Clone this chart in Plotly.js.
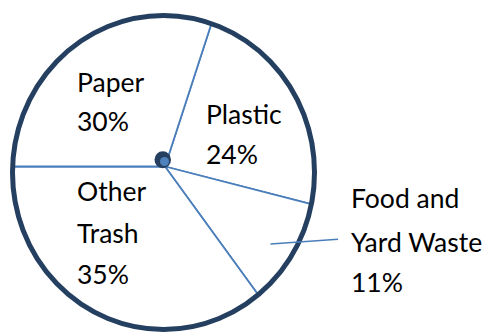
<!DOCTYPE html>
<html>
<head>
<meta charset="utf-8">
<script src="https://cdn.plot.ly/plotly-3.0.1.min.js"></script>
<style>html,body{margin:0;padding:0;background:#fff;}#chart{width:489px;height:333px;}</style>
</head>
<body>
<div id="chart"></div>
<script>
// Data
var categories = ['Plastic', 'Food and Yard Waste', 'Other Trash', 'Paper'];
var shares = [24, 11, 35, 30];
var labelLines = [['Plastic', '24%'], ['Food and', 'Yard Waste', '11%'], ['Other', 'Trash', '35%'], ['Paper', '30%']];

var W = 489, H = 333;
function px(x) { return x / W; }
function py(y) { return 1 - y / H; }

// label layout (left x, vertical centers of each line in pixels)
var labelPos = [
  {x: 205, ys: [114, 154]},
  {x: 350, ys: [197.5, 241.5, 281.5]},
  {x: 76, ys: [191, 233, 273.5]},
  {x: 76, ys: [82, 121]}
];

var annotations = [];
labelLines.forEach(function (lines, i) {
  lines.forEach(function (t, j) {
    annotations.push({
      text: t, showarrow: false, xref: 'paper', yref: 'paper',
      x: px(labelPos[i].x), y: py(labelPos[i].ys[j]),
      xanchor: 'left', yanchor: 'middle', borderpad: 0,
      font: {family: 'Lato, "Liberation Sans", sans-serif', size: 26.5, color: '#000'}
    });
  });
});

var trace = {
  type: 'pie',
  labels: categories,
  values: shares,
  sort: false,
  direction: 'clockwise',
  rotation: 18,
  textinfo: 'none',
  hoverinfo: 'none',
  showlegend: false,
  marker: {colors: ['#ffffff', '#ffffff', '#ffffff', '#ffffff'], line: {color: '#4A7EBB', width: 1.8}},
  domain: {x: [0, px(330)], y: [0, 1]}
};

// ring ellipse (pixel geometry of the drawn frame)
var ring = {cx: 163.5, cy: 172.5, rx: 151, ry: 157};
var maskPath = 'M0,0 L1,0 L1,1 L0,1 Z';
var n = 180;
for (var k = 0; k <= n; k++) {
  var a = 2 * Math.PI * k / n;
  var xx = px(ring.cx + ring.rx * Math.cos(a));
  var yy = py(ring.cy + ring.ry * Math.sin(a));
  maskPath += (k === 0 ? ' M' : ' L') + xx.toFixed(5) + ',' + yy.toFixed(5);
}
maskPath += ' Z';

var shapes = [
  // white mask outside the frame
  {type: 'path', xref: 'paper', yref: 'paper', path: maskPath, fillcolor: '#ffffff', fillrule: 'evenodd', line: {width: 0}},
  // outer ring
  {type: 'circle', xref: 'paper', yref: 'paper',
   x0: px(ring.cx - ring.rx), x1: px(ring.cx + ring.rx), y0: py(ring.cy + ring.ry), y1: py(ring.cy - ring.ry),
   line: {color: '#243F60', width: 5}, fillcolor: 'rgba(0,0,0,0)'},
  // leader line
  {type: 'line', xref: 'paper', yref: 'paper', x0: px(270.5), y0: py(244), x1: px(338), y1: py(239.3),
   line: {color: '#4A7EBB', width: 1.5}},
  // centre dot
  {type: 'circle', xref: 'paper', yref: 'paper', x0: px(154.5), x1: px(171), y0: py(168.3), y1: py(151.3),
   line: {width: 0}, fillcolor: '#243F60'},
  {type: 'circle', xref: 'paper', yref: 'paper', x0: px(160), x1: px(169), y0: py(166), y1: py(157),
   line: {width: 0}, fillcolor: '#4F81BD'}
];

var layout = {
  width: W, height: H,
  margin: {l: 0, r: 0, t: 0, b: 0},
  paper_bgcolor: '#ffffff',
  plot_bgcolor: '#ffffff',
  showlegend: false,
  shapes: shapes,
  annotations: annotations
};

Plotly.newPlot('chart', [trace], layout, {displayModeBar: false, staticPlot: true});
</script>
</body>
</html>
